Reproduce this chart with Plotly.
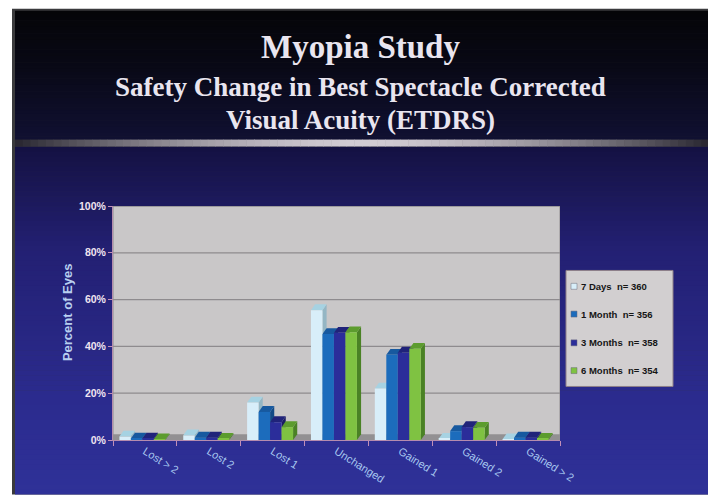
import plotly.graph_objects as go

# ---------------- data ----------------
categories = ["Lost > 2", "Lost 2", "Lost 1", "Unchanged", "Gained 1", "Gained 2", "Gained > 2"]
series_names = ["7 Days", "1 Month", "3 Months", "6 Months"]
series_n = [360, 356, 358, 354]
days7 = [1.5, 2.0, 16.0, 55.5, 22.0, 0.5, 0.3]
month1 = [0.6, 1.0, 12.0, 45.3, 36.4, 3.8, 1.0]
month3 = [0.6, 1.0, 7.6, 45.8, 37.3, 5.5, 1.0]
month6 = [0.3, 0.5, 5.5, 46.0, 39.0, 5.2, 0.5]
y_tickvals = [0, 20, 40, 60, 80, 100]
y_ticktext = ["0%", "20%", "40%", "60%", "80%", "100%"]
y_title = "Percent of Eyes"

title_lines = ["Myopia Study", "Safety Change in Best Spectacle Corrected", "Visual Acuity (ETDRS)"]

# ---------------- style ----------------
O = 8  # page body margin; figure coordinates are page coordinates minus O
W, H = 716 - O, 497 - O
ML, MR, MT, MB = 113 - O, 156, 206 - O, 55
front_colors = ["#d8eef9", "#1c6cbc", "#2b2d9a", "#7fc242"]
top_colors = ["#a6d2e2", "#17599f", "#20237a", "#5c9c2e"]
side_colors = ["#94b6c4", "#124a86", "#1a1c64", "#4a8225"]
bar_w = 0.18
start_off = -0.40
DX, DY = 0.065, 2.5  # 3D depth in data units

PW = W - ML - MR
PH = H - MT - MB


def px_x(p):
    return (p - O - ML) / PW


def px_y(p):
    return (H - MB - (p - O)) / PH


def lerp_color(stops, y):
    for (y0, c0), (y1, c1) in zip(stops[:-1], stops[1:]):
        if y0 <= y <= y1:
            t = (y - y0) / (y1 - y0) if y1 > y0 else 0
            c = [round(a + (b - a) * t) for a, b in zip(c0, c1)]
            return "rgb(%d,%d,%d)" % tuple(c)
    c = stops[-1][1] if y > stops[-1][0] else stops[0][1]
    return "rgb(%d,%d,%d)" % tuple(c)


shapes = []

# slide frame
shapes.append(dict(type="rect", xref="paper", yref="paper", layer="below",
                   x0=px_x(12), x1=px_x(712), y0=px_y(497), y1=px_y(7),
                   fillcolor="#3a3a3c", line=dict(width=0)))

# background gradients
top_stops = [(9, (5, 5, 8)), (60, (8, 8, 20)), (139, (16, 16, 50))]
bot_stops = [(146, (20, 17, 66)), (250, (35, 32, 115)), (400, (43, 43, 142)), (497, (47, 49, 152))]
N = 40
for k in range(N):
    y0 = 9 + (139 - 9) * k / N
    y1 = 9 + (139 - 9) * (k + 1) / N
    shapes.append(dict(type="rect", xref="paper", yref="paper", layer="below",
                       x0=px_x(15), x1=px_x(709), y0=px_y(y1 + 0.5), y1=px_y(y0),
                       fillcolor=lerp_color(top_stops, (y0 + y1) / 2), line=dict(width=0)))
N = 70
for k in range(N):
    y0 = 146 + (497 - 146) * k / N
    y1 = 146 + (497 - 146) * (k + 1) / N
    shapes.append(dict(type="rect", xref="paper", yref="paper", layer="below",
                       x0=px_x(15), x1=px_x(709), y0=px_y(min(y1 + 0.5, 497)), y1=px_y(y0),
                       fillcolor=lerp_color(bot_stops, (y0 + y1) / 2), line=dict(width=0)))

# separator bar (horizontal gradient)
NS = 90
for k in range(NS):
    x0 = 15 + (709 - 15) * k / NS
    x1 = 15 + (709 - 15) * (k + 1) / NS
    t = abs(((x0 + x1) / 2 - 362) / 347)
    b = max(0.0, 1 - t ** 1.6)
    c = (int(40 + 170 * b), int(38 + 166 * b), int(48 + 164 * b))
    shapes.append(dict(type="rect", xref="paper", yref="paper", layer="below",
                       x0=px_x(x0), x1=px_x(x1 + 0.5), y0=px_y(146), y1=px_y(139),
                       fillcolor="rgb(%d,%d,%d)" % c, line=dict(width=0)))

# wall, gridlines, floor (data coords)
shapes.append(dict(type="rect", xref="x", yref="y", layer="below",
                   x0=-0.5, x1=6.5, y0=0, y1=100, fillcolor="#c9c7c8",
                   line=dict(color="#8e8b8e", width=1)))
for v in y_tickvals[1:]:
    shapes.append(dict(type="line", xref="x", yref="y", layer="below",
                       x0=-0.5, x1=6.5, y0=v, y1=v, line=dict(color="#8e8b8e", width=1.2)))
shapes.append(dict(type="rect", xref="x", yref="y", layer="below",
                   x0=-0.5, x1=6.5, y0=0, y1=DY, fillcolor="#929092", line=dict(width=0)))

# 3D tops and sides of bars, from the data
all_series = [days7, month1, month3, month6]
for j, vals in enumerate(all_series):
    off = start_off + bar_w * j
    for i, v in enumerate(vals):
        x0 = i + off
        x1 = x0 + bar_w
        side = "M %f,%f L %f,%f L %f,%f L %f,%f Z" % (x1, 0, x1 + DX, DY, x1 + DX, v + DY, x1, v)
        top = "M %f,%f L %f,%f L %f,%f L %f,%f Z" % (x0, v, x1, v, x1 + DX, v + DY, x0 + DX, v + DY)
        shapes.append(dict(type="path", xref="x", yref="y", layer="below", path=side,
                           fillcolor=side_colors[j], line=dict(width=0)))
        shapes.append(dict(type="path", xref="x", yref="y", layer="below", path=top,
                           fillcolor=top_colors[j], line=dict(width=0)))

fig = go.Figure()
for j, vals in enumerate(all_series):
    fig.add_trace(go.Bar(
        x=list(range(len(categories))), y=vals, width=bar_w, offset=start_off + bar_w * j,
        name=series_names[j], marker=dict(color=front_colors[j], line=dict(width=0)),
        showlegend=False, hoverinfo="skip"))

# legend box (drawn manually to match the slide)
shapes.append(dict(type="rect", xref="paper", yref="paper",
                   x0=px_x(566), x1=px_x(673), y0=px_y(388), y1=px_y(271),
                   fillcolor="#d2cfd0", line=dict(color="#8f8088", width=1)))
annotations = []
leg_y = [287, 315, 344, 372]
for j in range(4):
    cy = leg_y[j]
    shapes.append(dict(type="rect", xref="paper", yref="paper",
                       x0=px_x(571), x1=px_x(577), y0=px_y(cy + 3), y1=px_y(cy - 3),
                       fillcolor=front_colors[j], line=dict(color="#6a6a7a", width=0.5)))
    annotations.append(dict(xref="paper", yref="paper", x=px_x(579), y=px_y(cy),
                            xanchor="left", yanchor="middle", showarrow=False,
                            text="%s\u00a0 n= %d" % (series_names[j], series_n[j]),
                            font=dict(family="Arial, Liberation Sans", size=9.5, color="#151515",
                                      weight="bold")))

# titles
title_y = [46, 86, 119]
title_sizes = [33, 27, 27]
for t, yy, sz in zip(title_lines, title_y, title_sizes):
    annotations.append(dict(xref="paper", yref="paper", x=px_x(360), y=px_y(yy),
                            xanchor="center", yanchor="middle", showarrow=False, text=t,
                            font=dict(family="Times New Roman, Liberation Serif", size=sz,
                                      color="#e9e5ef", weight="bold")))

# y axis title
annotations.append(dict(xref="paper", yref="paper", x=px_x(67), y=px_y(313),
                        xanchor="center", yanchor="middle", showarrow=False, text=y_title,
                        textangle=-90,
                        font=dict(family="Arial, Liberation Sans", size=13, color="#b7cff0",
                                  weight="bold")))

fig.update_layout(
    width=W, height=H, autosize=False,
    margin=dict(l=ML, r=MR, t=MT, b=MB, pad=0),
    paper_bgcolor="white", plot_bgcolor="rgba(0,0,0,0)",
    barmode="overlay", shapes=shapes, annotations=annotations,
    xaxis=dict(range=[-0.5, 6.5], tickmode="array", tickvals=list(range(len(categories))),
               ticktext=categories, tickangle=32, ticks="", showgrid=False, zeroline=False,
               showline=True, linecolor="#b58cae", linewidth=1,
               tickfont=dict(family="Arial, Liberation Sans", size=11, color="#a8c8f0"),
               minor=dict(tickmode="array", tickvals=[i - 0.5 for i in range(len(categories) + 1)],
                          ticks="outside", ticklen=5, tickcolor="#c28fb8", tickwidth=1)),
    yaxis=dict(range=[0, 100], tickmode="array", tickvals=y_tickvals, ticktext=y_ticktext,
               ticks="outside", ticklen=4, tickcolor="#c28fb8", showgrid=False, zeroline=False,
               showline=True, linecolor="#b58cae", linewidth=1,
               tickfont=dict(family="Arial, Liberation Sans", size=10.5, color="#f0e4f0",
                             weight="bold")),
)

fig.write_html("out.html")
